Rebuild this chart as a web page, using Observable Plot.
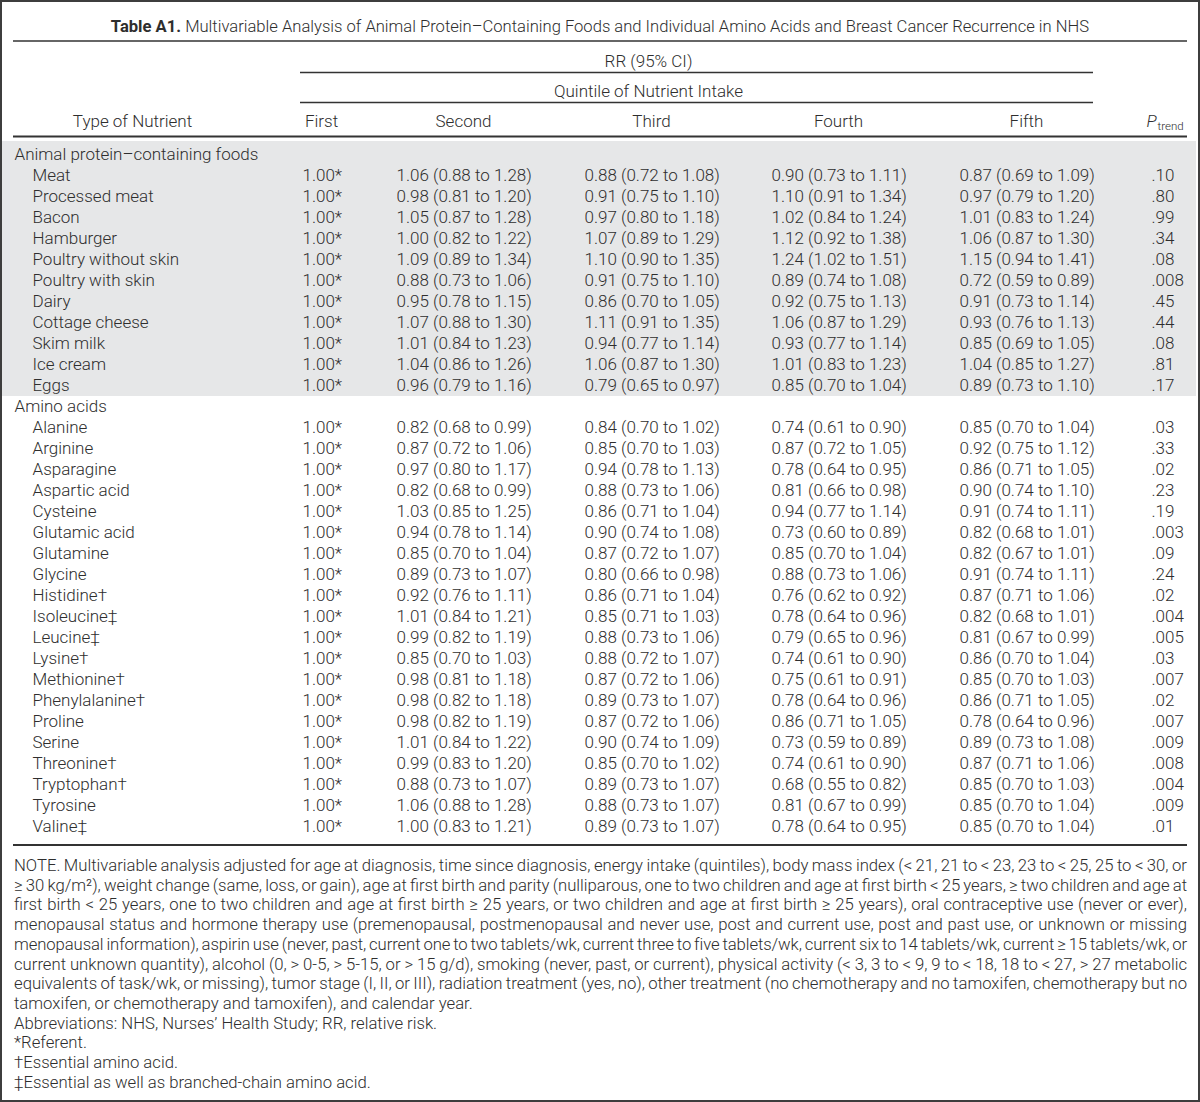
<!DOCTYPE html>
<html>
<head>
<meta charset="utf-8">
<script src="https://cdn.jsdelivr.net/npm/d3@7"></script>
<script src="https://cdn.jsdelivr.net/npm/@observablehq/plot@0.6"></script>
<style>
  body { margin: 0; background: #fff; }
  #page { position: relative; width: 1200px; height: 1102px; overflow: hidden; background: #fff;
          font-family: Roboto, "Liberation Sans", Arial, sans-serif; font-weight: 300; color: #2e2e2e; }
  #border { position: absolute; left: 0; top: 0; width: 1200px; height: 1102px; box-sizing: border-box;
            border: 2px solid #3d3d3d; pointer-events: none; }
  #title { position: absolute; left: 0; top: 17px; width: 1200px; text-align: center; font-size: 16.6px;
           line-height: 20px; white-space: nowrap; }
  #title b { font-weight: 700; }
  #header, #body { position: absolute; left: 0; }
  #header { top: 36px; }
  #body { top: 137px; }
  #notes { position: absolute; left: 14px; top: 856px; width: 1173px; font-size: 16.7px; line-height: 19.72px; }
  #notes div { white-space: nowrap; }
</style>
</head>
<body>
<div id="page">
  <div id="title"><b>Table A1.</b> Multivariable Analysis of Animal Protein–Containing Foods and Individual Amino Acids and Breast Cancer Recurrence in NHS</div>
  <div id="header"></div>
  <div id="body"></div>
  <div id="notes"></div>
  <div id="border"></div>
</div>
<script>
// ---------------- DATA ----------------
const sectionLabels = ["Animal protein–containing foods", "Amino acids"];
const animalFoods = ["Meat", "Processed meat", "Bacon", "Hamburger", "Poultry without skin", "Poultry with skin",
  "Dairy", "Cottage cheese", "Skim milk", "Ice cream", "Eggs"];
const aminoAcids = ["Alanine", "Arginine", "Asparagine", "Aspartic acid", "Cysteine", "Glutamic acid", "Glutamine",
  "Glycine", "Histidine†", "Isoleucine‡", "Leucine‡", "Lysine†", "Methionine†", "Phenylalanine†", "Proline",
  "Serine", "Threonine†", "Tryptophan†", "Tyrosine", "Valine‡"];
const referent = "1.00*";
const secondQuintile = [
  "1.06 (0.88 to 1.28)", "0.98 (0.81 to 1.20)", "1.05 (0.87 to 1.28)", "1.00 (0.82 to 1.22)", "1.09 (0.89 to 1.34)",
  "0.88 (0.73 to 1.06)", "0.95 (0.78 to 1.15)", "1.07 (0.88 to 1.30)", "1.01 (0.84 to 1.23)", "1.04 (0.86 to 1.26)",
  "0.96 (0.79 to 1.16)",
  "0.82 (0.68 to 0.99)", "0.87 (0.72 to 1.06)", "0.97 (0.80 to 1.17)", "0.82 (0.68 to 0.99)", "1.03 (0.85 to 1.25)",
  "0.94 (0.78 to 1.14)", "0.85 (0.70 to 1.04)", "0.89 (0.73 to 1.07)", "0.92 (0.76 to 1.11)", "1.01 (0.84 to 1.21)",
  "0.99 (0.82 to 1.19)", "0.85 (0.70 to 1.03)", "0.98 (0.81 to 1.18)", "0.98 (0.82 to 1.18)", "0.98 (0.82 to 1.19)",
  "1.01 (0.84 to 1.22)", "0.99 (0.83 to 1.20)", "0.88 (0.73 to 1.07)", "1.06 (0.88 to 1.28)", "1.00 (0.83 to 1.21)"];
const thirdQuintile = [
  "0.88 (0.72 to 1.08)", "0.91 (0.75 to 1.10)", "0.97 (0.80 to 1.18)", "1.07 (0.89 to 1.29)", "1.10 (0.90 to 1.35)",
  "0.91 (0.75 to 1.10)", "0.86 (0.70 to 1.05)", "1.11 (0.91 to 1.35)", "0.94 (0.77 to 1.14)", "1.06 (0.87 to 1.30)",
  "0.79 (0.65 to 0.97)",
  "0.84 (0.70 to 1.02)", "0.85 (0.70 to 1.03)", "0.94 (0.78 to 1.13)", "0.88 (0.73 to 1.06)", "0.86 (0.71 to 1.04)",
  "0.90 (0.74 to 1.08)", "0.87 (0.72 to 1.07)", "0.80 (0.66 to 0.98)", "0.86 (0.71 to 1.04)", "0.85 (0.71 to 1.03)",
  "0.88 (0.73 to 1.06)", "0.88 (0.72 to 1.07)", "0.87 (0.72 to 1.06)", "0.89 (0.73 to 1.07)", "0.87 (0.72 to 1.06)",
  "0.90 (0.74 to 1.09)", "0.85 (0.70 to 1.02)", "0.89 (0.73 to 1.07)", "0.88 (0.73 to 1.07)", "0.89 (0.73 to 1.07)"];
const fourthQuintile = [
  "0.90 (0.73 to 1.11)", "1.10 (0.91 to 1.34)", "1.02 (0.84 to 1.24)", "1.12 (0.92 to 1.38)", "1.24 (1.02 to 1.51)",
  "0.89 (0.74 to 1.08)", "0.92 (0.75 to 1.13)", "1.06 (0.87 to 1.29)", "0.93 (0.77 to 1.14)", "1.01 (0.83 to 1.23)",
  "0.85 (0.70 to 1.04)",
  "0.74 (0.61 to 0.90)", "0.87 (0.72 to 1.05)", "0.78 (0.64 to 0.95)", "0.81 (0.66 to 0.98)", "0.94 (0.77 to 1.14)",
  "0.73 (0.60 to 0.89)", "0.85 (0.70 to 1.04)", "0.88 (0.73 to 1.06)", "0.76 (0.62 to 0.92)", "0.78 (0.64 to 0.96)",
  "0.79 (0.65 to 0.96)", "0.74 (0.61 to 0.90)", "0.75 (0.61 to 0.91)", "0.78 (0.64 to 0.96)", "0.86 (0.71 to 1.05)",
  "0.73 (0.59 to 0.89)", "0.74 (0.61 to 0.90)", "0.68 (0.55 to 0.82)", "0.81 (0.67 to 0.99)", "0.78 (0.64 to 0.95)"];
const fifthQuintile = [
  "0.87 (0.69 to 1.09)", "0.97 (0.79 to 1.20)", "1.01 (0.83 to 1.24)", "1.06 (0.87 to 1.30)", "1.15 (0.94 to 1.41)",
  "0.72 (0.59 to 0.89)", "0.91 (0.73 to 1.14)", "0.93 (0.76 to 1.13)", "0.85 (0.69 to 1.05)", "1.04 (0.85 to 1.27)",
  "0.89 (0.73 to 1.10)",
  "0.85 (0.70 to 1.04)", "0.92 (0.75 to 1.12)", "0.86 (0.71 to 1.05)", "0.90 (0.74 to 1.10)", "0.91 (0.74 to 1.11)",
  "0.82 (0.68 to 1.01)", "0.82 (0.67 to 1.01)", "0.91 (0.74 to 1.11)", "0.87 (0.71 to 1.06)", "0.82 (0.68 to 1.01)",
  "0.81 (0.67 to 0.99)", "0.86 (0.70 to 1.04)", "0.85 (0.70 to 1.03)", "0.86 (0.71 to 1.05)", "0.78 (0.64 to 0.96)",
  "0.89 (0.73 to 1.08)", "0.87 (0.71 to 1.06)", "0.85 (0.70 to 1.03)", "0.85 (0.70 to 1.04)", "0.85 (0.70 to 1.04)"];
const pTrend = [".10", ".80", ".99", ".34", ".08", ".008", ".45", ".44", ".08", ".81", ".17",
  ".03", ".33", ".02", ".23", ".19", ".003", ".09", ".24", ".02", ".004",
  ".005", ".03", ".007", ".02", ".007", ".009", ".008", ".004", ".009", ".01"];
const spannerLabels = ["RR (95% CI)", "Quintile of Nutrient Intake"];
const typeLabel = "Type of Nutrient";
const quintileLabels = ["First", "Second", "Third", "Fourth", "Fifth"];
const pLabel = "P";
const pSubLabel = "trend";
const noteLines = [
  "NOTE. Multivariable analysis adjusted for age at diagnosis, time since diagnosis, energy intake (quintiles), body mass index (< 21, 21 to < 23, 23 to < 25, 25 to < 30, or",
  "≥ 30 kg/m²), weight change (same, loss, or gain), age at first birth and parity (nulliparous, one to two children and age at first birth < 25 years, ≥ two children and age at",
  "first birth < 25 years, one to two children and age at first birth ≥ 25 years, or two children and age at first birth ≥ 25 years), oral contraceptive use (never or ever),",
  "menopausal status and hormone therapy use (premenopausal, postmenopausal and never use, post and current use, post and past use, or unknown or missing",
  "menopausal information), aspirin use (never, past, current one to two tablets/wk, current three to five tablets/wk, current six to 14 tablets/wk, current ≥ 15 tablets/wk, or",
  "current unknown quantity), alcohol (0, > 0-5, > 5-15, or > 15 g/d), smoking (never, past, or current), physical activity (< 3, 3 to < 9, 9 to < 18, 18 to < 27, > 27 metabolic",
  "equivalents of task/wk, or missing), tumor stage (I, II, or III), radiation treatment (yes, no), other treatment (no chemotherapy and no tamoxifen, chemotherapy but no",
  "tamoxifen, or chemotherapy and tamoxifen), and calendar year.",
  "Abbreviations: NHS, Nurses’ Health Study; RR, relative risk.",
  "*Referent.",
  "†Essential amino acid.",
  "‡Essential as well as branched-chain amino acid."
];
const justifiedNoteLines = 7;

// ---------------- LAYOUT (positions / styles) ----------------
const FONT = 'Roboto, "Liberation Sans", Arial, sans-serif';
const INK = "#2e2e2e";
const RULE = "#333";
const SHADE = "#e6e7e8";
const valueX = {section: 14, item: 32, first: 302, second: 396, third: 584, fourth: 771, fifth: 959, p: 1151};
const headX = {type: 132, first: 321, second: 463, third: 651, fourth: 838, fifth: 1026};
const quintCols = ["first", "second", "third", "fourth", "fifth"];
const spannerCenter = 648;

// ---------------- BUILD TABLE ROWS ----------------
const items = [
  ...animalFoods.map(name => ({name, section: 0})),
  ...aminoAcids.map(name => ({name, section: 1}))
];
items.forEach((d, i) => {
  d.cells = {first: referent, second: secondQuintile[i], third: thirdQuintile[i],
             fourth: fourthQuintile[i], fifth: fifthQuintile[i], p: pTrend[i]};
});
const rows = [];
sectionLabels.forEach((label, si) => {
  rows.push({id: rows.length, label, kind: "section", section: si});
  items.filter(d => d.section === si).forEach(d => rows.push({id: rows.length, label: d.name, kind: "item", section: si, cells: d.cells}));
});
const cells = rows.filter(r => r.kind === "item").flatMap(r =>
  [...quintCols, "p"].map(col => ({id: r.id, col, text: r.cells[col]})));
const rowIds = rows.map(r => r.id);
const shadedRows = rows.filter(r => r.section === 0);

const common = {
  width: 1200,
  marginLeft: 0, marginRight: 0,
  x: {type: "linear", domain: [0, 1200], range: [0, 1200], axis: null},
  style: {fontFamily: FONT, fontSize: "17px", fontWeight: 300, color: INK, background: "transparent", overflow: "visible"}
};

// ---------------- HEADER PLOT ----------------
const headerRows = ["rr", "quint", "head"];
const spanners = spannerLabels.map((label, i) => ({label, row: headerRows[i]}));
const headCells = [{label: typeLabel, x: headX.type, row: "head"},
  ...quintileLabels.map((label, i) => ({label, x: headX[quintCols[i]], row: "head"}))];

const header = Plot.plot({
  ...common,
  height: 102, marginTop: 9.5, marginBottom: 2.5,
  y: {type: "band", domain: headerRows, padding: 0, axis: null},
  marks: [
    Plot.ruleY(["rr"], {y: d => d, dy: -20.5, x1: 13, x2: 1187, stroke: RULE, strokeWidth: 1.6}),
    Plot.ruleY(["rr", "quint"], {y: d => d, dy: 11, x1: 300, x2: 1093, stroke: RULE, strokeWidth: 1.6}),
    Plot.ruleY(["head"], {y: d => d, dy: 15, x1: 13, x2: 1187, stroke: RULE, strokeWidth: 2.2}),
    Plot.text(spanners, {x: () => spannerCenter, y: "row", text: "label", textAnchor: "middle", fill: INK}),
    Plot.text(headCells, {x: "x", y: "row", text: "label", textAnchor: "middle", fill: INK}),
    Plot.text([pLabel], {x: () => 1146, y: () => "head", text: d => d, textAnchor: "start", fontStyle: "italic", fill: INK}),
    Plot.text([pSubLabel], {x: () => 1157, y: () => "head", text: d => d, textAnchor: "start", fontSize: 11.5, dy: 5, fill: INK})
  ]
});
document.getElementById("header").append(header);

// ---------------- BODY PLOT ----------------
const step = 21.156;
const bodyTop = 4.42;
const body = Plot.plot({
  ...common,
  height: 716, marginTop: bodyTop, marginBottom: 716 - (bodyTop + step * rowIds.length),
  y: {type: "band", domain: rowIds, padding: 0, axis: null},
  marks: [
    Plot.barX(shadedRows, {x1: 2, x2: 1196, y: "id", fill: SHADE, insetTop: -3}),
    Plot.text(rows.filter(r => r.kind === "section"), {x: () => valueX.section, y: "id", text: "label", textAnchor: "start", fill: INK}),
    Plot.text(rows.filter(r => r.kind === "item"), {x: () => valueX.item, y: "id", text: "label", textAnchor: "start", fill: INK}),
    Plot.text(cells, {x: d => valueX[d.col], y: "id", text: "text", textAnchor: "start", fill: INK}),
    Plot.ruleY([rowIds[rowIds.length - 1]], {y: d => d, dy: 18, x1: 13, x2: 1187, stroke: RULE, strokeWidth: 2.2})
  ]
});
document.getElementById("body").append(body);

// ---------------- NOTES (justified lines) ----------------
const notes = document.getElementById("notes");
const noteWidth = 1173;
noteLines.forEach((t, i) => {
  const div = document.createElement("div");
  const span = document.createElement("span");
  span.textContent = t;
  div.appendChild(span);
  notes.appendChild(div);
  if (i < justifiedNoteLines) {
    const n = (t.match(/ /g) || []).length;
    let w = span.getBoundingClientRect().width;
    let extra = noteWidth - w;
    if (extra < 0) {
      // tighten: limited word-space squeeze, the rest through letter spacing
      const ws = Math.max(extra / n, -1.0);
      span.style.wordSpacing = ws + "px";
      const rem = extra - ws * n;
      span.style.letterSpacing = (rem / t.length) + "px";
      w = span.getBoundingClientRect().width;
      span.style.wordSpacing = (ws + (noteWidth - w) / n) + "px";
    } else {
      span.style.wordSpacing = (extra / n) + "px";
    }
  }
});
</script>
</body>
</html>
